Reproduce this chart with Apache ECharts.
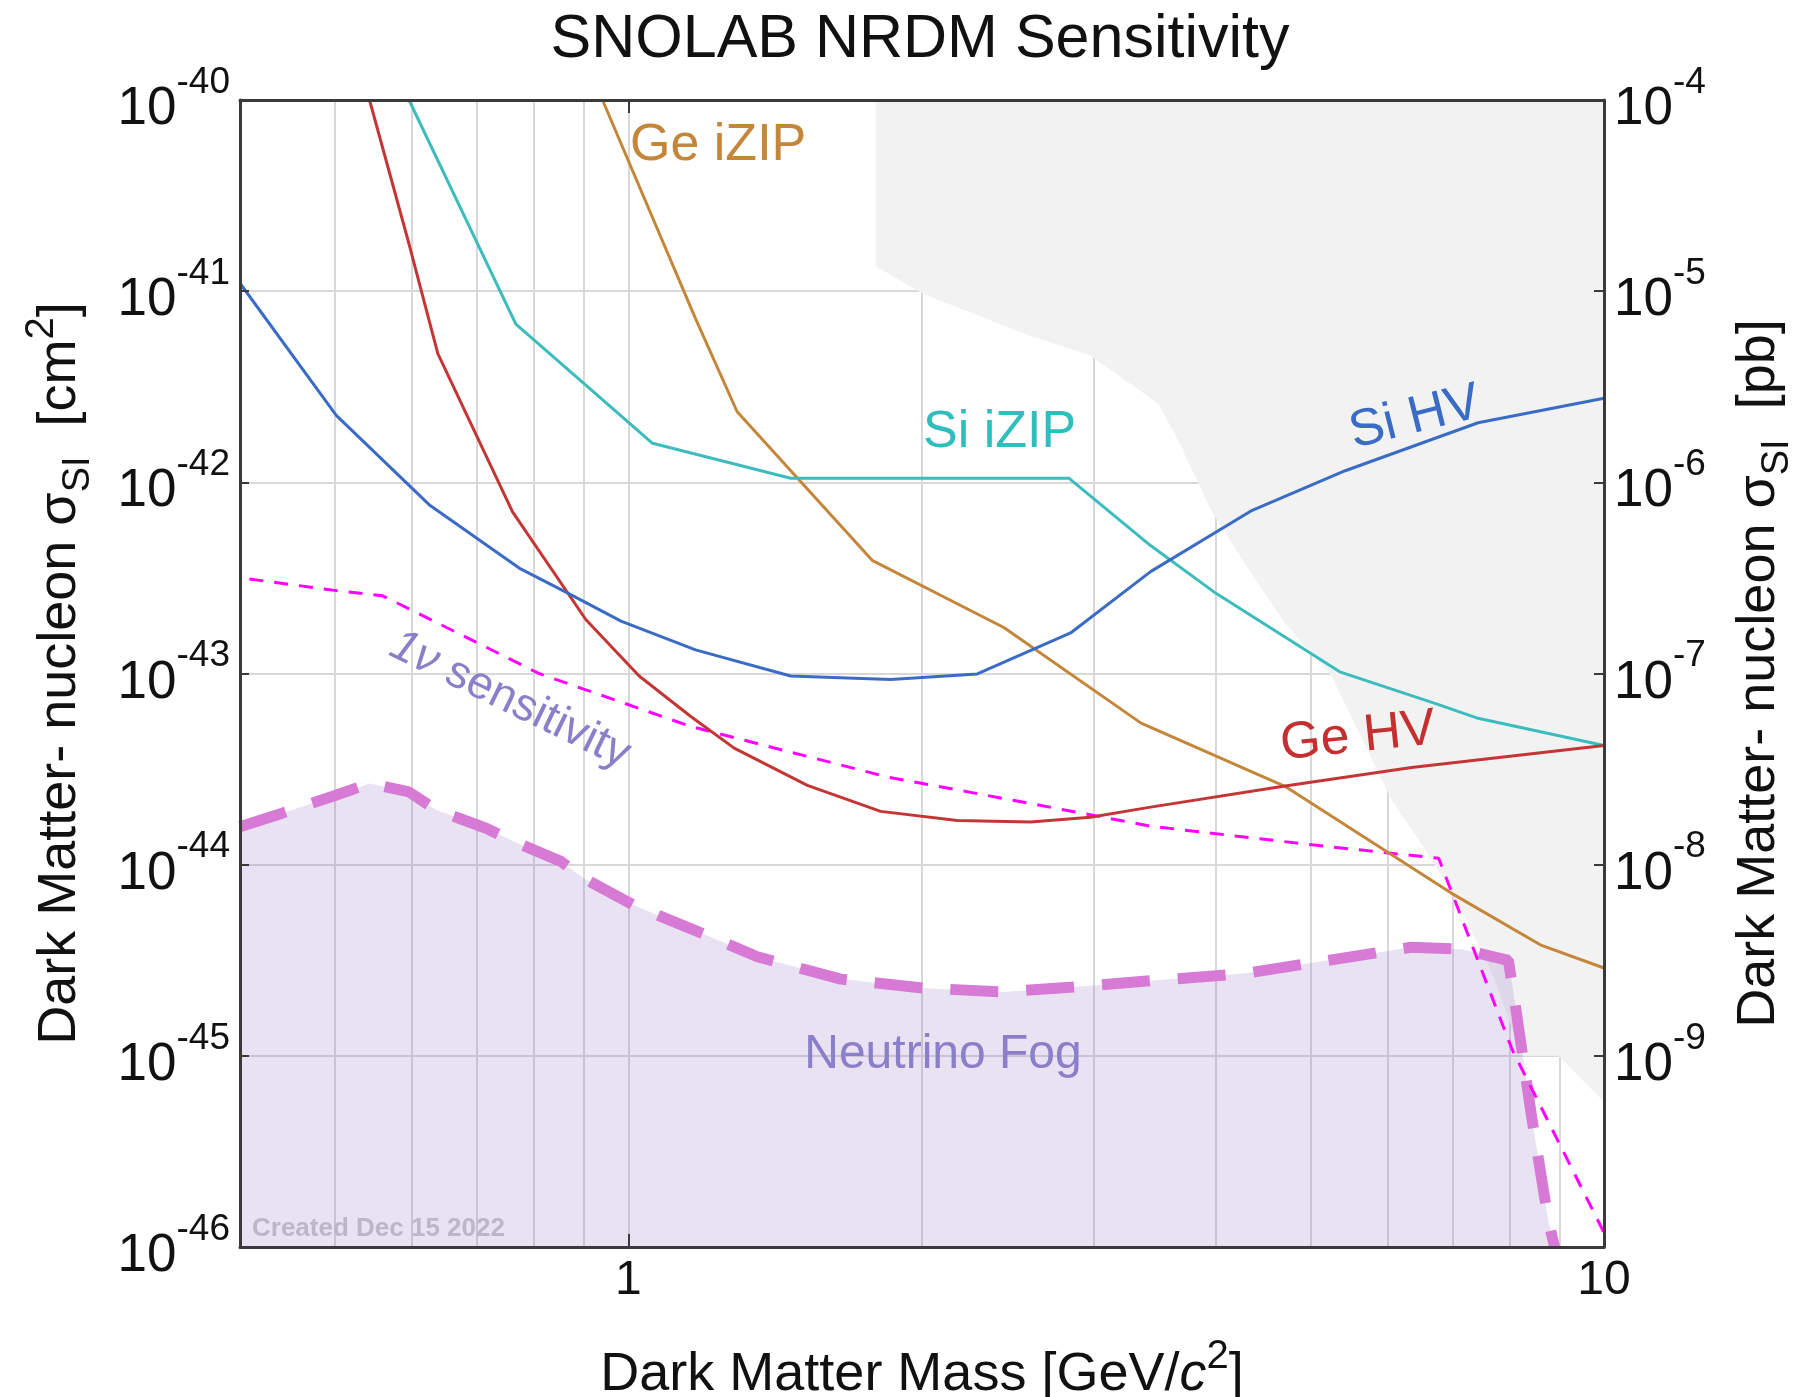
<!DOCTYPE html>
<html><head><meta charset="utf-8">
<script src="https://cdn.jsdelivr.net/npm/echarts@6/dist/echarts.min.js"></script>
<style>html,body{margin:0;padding:0;background:#fff}#c{width:1801px;height:1397px}</style>
</head><body><div id="c"></div>
<script>
const FONT = "'Liberation Sans', Arial, Helvetica, sans-serif";

// axis ranges and grid positions
const massRange = [0.4, 10];                              // GeV/c^2
const massGrid = [0.5, 0.6, 0.7, 0.8, 0.9, 1, 2, 3, 4, 5, 6, 7, 8, 9];
const sigmaRange = [1e-46, 1e-40];                        // cm^2
const sigmaGrid = [1e-45, 1e-44, 1e-43, 1e-42, 1e-41];   // cm^2
const CM2_PER_PB = 1e-36;

// [mass GeV/c^2, sigma cm^2]
const geIZIP = [[0.941,1e-40],[1.172,7.19e-42],[1.293,2.34e-42],[1.778,3.91e-43],[2.426,1.74e-43],[3.354,5.5e-44],[4.71,2.57e-44],[6.98,7.08e-45],[8.63,3.78e-45],[10,2.88e-45]];
const siIZIP = [[0.596,1e-40],[0.767,6.73e-42],[1.059,1.6e-42],[1.467,1.05e-42],[2.83,1.05e-42],[3.43,4.67e-43],[3.98,2.68e-43],[5.36,1.02e-43],[6.71,6.98e-44],[7.43,5.83e-44],[10,4.2e-44]];
const siHV = [[0.4,1.1e-41],[0.502,2.24e-42],[0.625,7.64e-43],[0.773,3.56e-43],[0.87,2.61e-43],[0.983,1.88e-43],[1.172,1.33e-43],[1.467,9.7e-44],[1.857,9.3e-44],[2.279,9.95e-44],[2.84,1.63e-43],[3.43,3.41e-43],[4.36,7.14e-43],[5.43,1.15e-42],[7.43,2.05e-42],[10,2.75e-42]];
const geHV = [[0.543,1e-40],[0.596,1.77e-41],[0.638,4.71e-42],[0.761,7.0e-43],[0.905,1.91e-43],[1.026,9.7e-44],[1.159,5.96e-44],[1.284,4.07e-44],[1.526,2.6e-44],[1.814,1.9e-44],[2.174,1.7e-44],[2.584,1.67e-44],[2.976,1.77e-44],[3.43,2.0e-44],[4.71,2.58e-44],[6.35,3.22e-44],[10,4.2e-44]];
const oneNu = [[0.409,3.12e-43],[0.498,2.73e-43],[0.56,2.55e-43],[0.596,2.18e-43],[0.81,1.0e-43],[1.157,5.3e-44],[1.84,2.88e-44],[2.544,2.12e-44],[3.43,1.59e-44],[5.02,1.27e-44],[6.77,1.08e-44],[8.05,1.08e-45],[10,1.19e-46]];
const neutrinoFog = [[0.4,1.58e-44],[0.442,1.86e-44],[0.498,2.28e-44],[0.543,2.66e-44],[0.596,2.4e-44],[0.635,1.94e-44],[0.715,1.55e-44],[0.761,1.33e-44],[0.853,1.04e-44],[0.901,8.47e-45],[1.01,6.19e-45],[1.075,5.41e-45],[1.172,4.52e-45],[1.356,3.3e-45],[1.651,2.52e-45],[2.009,2.26e-45],[2.426,2.16e-45],[2.93,2.31e-45],[3.43,2.47e-45],[4.29,2.7e-45],[5.22,3.16e-45],[6.35,3.7e-45],[7.15,3.61e-45],[7.98,3.16e-45],[8.11,1.85e-45],[8.43,4.8e-46],[8.77,1.37e-46],[8.9,1e-46]];
const excluded = [[1.793,1e-40],[1.793,1.35e-41],[2.009,9.64e-42],[2.543,6.01e-42],[2.976,4.61e-42],[3.496,2.57e-42],[3.665,1.64e-42],[3.966,7.0e-43],[4.29,3.73e-43],[4.713,1.82e-43],[5.26,9.7e-44],[6.06,2.17e-44],[6.51,1.27e-44],[7.04,6.76e-45],[7.73,2.51e-45],[8.23,1.0e-45],[8.98,1.0e-45],[10,5.75e-46]];

// the library works in pb (avoids float trouble with 1e-46); both axes share this scale
const pb = v => v / CM2_PER_PB;
const toPb = arr => arr.map(d => [d[0], pb(d[1])]);
const PB_MIN = pb(sigmaRange[0]), PB_MAX = pb(sigmaRange[1]);

const chart = echarts.init(document.getElementById('c'), null, {renderer: 'canvas'});

const exp10 = v => Math.round(Math.log10(v));
const isDecade = v => Math.abs(Math.log10(v) - Math.round(Math.log10(v))) < 1e-6;
const cmExp = Math.round(Math.log10(CM2_PER_PB));
const AXC = '#3a3a3a';
const tickRich = {
  b: {fontSize: 53, lineHeight: 72, verticalAlign: 'bottom', fontFamily: FONT, color: '#111'},
  s: {fontSize: 37, lineHeight: 40, verticalAlign: 'top', fontFamily: FONT, color: '#111'}
};
const nameRich = {
  a: {fontSize: 54, lineHeight: 76, fontFamily: FONT, color: '#111'},
  i: {fontSize: 54, lineHeight: 76, fontFamily: FONT, fontStyle: 'italic', color: '#111'},
  d: {fontSize: 38, lineHeight: 44, verticalAlign: 'bottom', fontFamily: FONT, color: '#111'},
  u: {fontSize: 40, lineHeight: 40, verticalAlign: 'top', fontFamily: FONT, color: '#111'}
};

function curve(name, data, color, z) {
  return {name, type: 'line', data: toPb(data), symbol: 'none', z, clip: true,
    lineStyle: {color, width: 3}, silent: true};
}

const gridLines = massGrid.map(x => ({xAxis: x})).concat(
  sigmaGrid.map(y => [{coord: [massRange[0], pb(y)]}, {coord: [massRange[1], pb(y)]}]));

const option = {
  animation: false,
  backgroundColor: '#fff',
  grid: {left: 240, right: 197, top: 100, bottom: 150, containLabel: false, outerBoundsMode: 'none'},
  xAxis: [
    {type: 'log', logBase: 10, min: massRange[0], max: massRange[1], position: 'bottom', z: 10,
     axisLine: {show: true, lineStyle: {color: AXC, width: 3}},
     axisTick: {show: true, inside: true, length: 13, lineStyle: {color: AXC, width: 2}},
     axisLabel: {formatter: v => isDecade(v) ? String(Math.round(v)) : '', fontSize: 48, fontFamily: FONT, color: '#111', margin: 10},
     splitLine: {show: false},
     name: '{a|Dark Matter Mass [GeV/}{i|c}{u|2}{a|]}', nameLocation: 'middle', nameGap: 90, nameMoveOverlap: false,
     nameTextStyle: {rich: nameRich}},
    {type: 'log', logBase: 10, min: massRange[0], max: massRange[1], position: 'top', z: 10,
     axisLine: {show: true, lineStyle: {color: AXC, width: 3}},
     axisTick: {show: true, inside: true, length: 13, lineStyle: {color: AXC, width: 2}},
     axisLabel: {show: false}, splitLine: {show: false}}
  ],
  yAxis: [
    {type: 'log', logBase: 10, min: PB_MIN, max: PB_MAX, splitNumber: 6, position: 'left', z: 10,
     axisLine: {show: true, lineStyle: {color: AXC, width: 3}},
     axisTick: {show: true, inside: true, length: 9, lineStyle: {color: AXC, width: 2}},
     axisLabel: {formatter: v => '{b|10}{s|' + (exp10(v) + cmExp) + '}', rich: tickRich, margin: 10, showMinLabel: true, showMaxLabel: true},
     splitLine: {show: false},
     name: '{a|Dark Matter- nucleon σ}{d|SI}{a|  [cm}{u|2}{a|]}', nameLocation: 'middle', nameRotate: 90, nameGap: 142, nameMoveOverlap: false,
     nameTextStyle: {rich: nameRich}},
    {type: 'log', logBase: 10, min: PB_MIN, max: PB_MAX, splitNumber: 6, position: 'right', z: 10,
     axisLine: {show: true, lineStyle: {color: AXC, width: 3}},
     axisTick: {show: true, inside: true, length: 10, lineStyle: {color: AXC, width: 2}},
     axisLabel: {formatter: v => exp10(v) <= exp10(PB_MIN) ? '' : '{b|10}{s|' + exp10(v) + '}', rich: tickRich, margin: 10},
     splitLine: {show: false},
     name: '{a|Dark Matter- nucleon σ}{d|SI}{a|  [pb]}', nameLocation: 'middle', nameRotate: 90, nameGap: 117, nameMoveOverlap: false,
     nameTextStyle: {rich: nameRich}}
  ],
  series: [
    {name: 'grid', type: 'line', data: [], z: 1, silent: true,
     markLine: {silent: true, symbol: ['none', 'none'], z: 1, animation: false,
       label: {show: false}, lineStyle: {color: '#d8d8d8', width: 2, type: 'solid'},
       emphasis: {disabled: true}, data: gridLines}},
    {name: 'excluded', type: 'line', data: toPb(excluded), symbol: 'none', z: 2, silent: true,
     lineStyle: {width: 0, opacity: 0}, areaStyle: {color: '#f2f2f2', opacity: 1, origin: PB_MAX}},
    {name: 'Neutrino Fog', type: 'line', data: toPb(neutrinoFog), symbol: 'none', z: 3, silent: true,
     lineStyle: {color: '#d67ad6', width: 11, type: [48, 28]},
     areaStyle: {color: 'rgba(140,110,190,0.2)', origin: PB_MIN, opacity: 1}},
    {name: '1ν sensitivity', type: 'line', data: toPb(oneNu), symbol: 'none', z: 4, silent: true,
     lineStyle: {color: '#ff00ff', width: 3, type: [14, 11]}},
    curve('Ge iZIP', geIZIP, '#c4873a', 5),
    curve('Si iZIP', siIZIP, '#3cbcbc', 5),
    curve('Ge HV', geHV, '#c43636', 5),
    curve('Si HV', siHV, '#3a6cc6', 5)
  ],
  graphic: [
    {type: 'text', x: 920, y: 40, silent: true,
     style: {text: 'SNOLAB NRDM Sensitivity', fontSize: 61, fontFamily: FONT, fill: '#111', textAlign: 'center', textVerticalAlign: 'middle'}},
    {type: 'text', x: 630, y: 146, z: 20, silent: true,
     style: {text: 'Ge iZIP', fontSize: 52, fontFamily: FONT, fill: '#c4873a', textAlign: 'left', textVerticalAlign: 'middle'}},
    {type: 'text', x: 923, y: 433, z: 20, silent: true,
     style: {text: 'Si iZIP', fontSize: 52, fontFamily: FONT, fill: '#2fbdbd', textAlign: 'left', textVerticalAlign: 'middle'}},
    {type: 'text', x: 1415, y: 418, z: 20, rotation: 14 * Math.PI / 180, silent: true,
     style: {text: 'Si HV', fontSize: 52, fontFamily: FONT, fill: '#3a6cc6', textAlign: 'center', textVerticalAlign: 'middle'}},
    {type: 'text', x: 1358, y: 737, z: 20, rotation: 6 * Math.PI / 180, silent: true,
     style: {text: 'Ge HV', fontSize: 52, fontFamily: FONT, fill: '#c43030', textAlign: 'center', textVerticalAlign: 'middle'}},
    {type: 'text', x: 510, y: 700, z: 20, rotation: -26 * Math.PI / 180, silent: true,
     style: {text: '{i|1ν} sensitivity', fontSize: 46, fontFamily: FONT, fill: '#8a7fc8', textAlign: 'center', textVerticalAlign: 'middle',
       rich: {i: {fontSize: 46, fontFamily: FONT, fontStyle: 'italic', fill: '#8a7fc8', color: '#8a7fc8'}}}},
    {type: 'text', x: 943, y: 1055, z: 20, silent: true,
     style: {text: 'Neutrino Fog', fontSize: 48, fontFamily: FONT, fill: '#8a7fc8', textAlign: 'center', textVerticalAlign: 'middle'}},
    {type: 'text', x: 252, y: 1229, z: 20, silent: true,
     style: {text: 'Created Dec 15 2022', fontSize: 26, fontWeight: 'bold', fontFamily: FONT, fill: '#bdb6c9', textAlign: 'left', textVerticalAlign: 'middle'}}
  ]
};
chart.setOption(option);
</script></body></html>
